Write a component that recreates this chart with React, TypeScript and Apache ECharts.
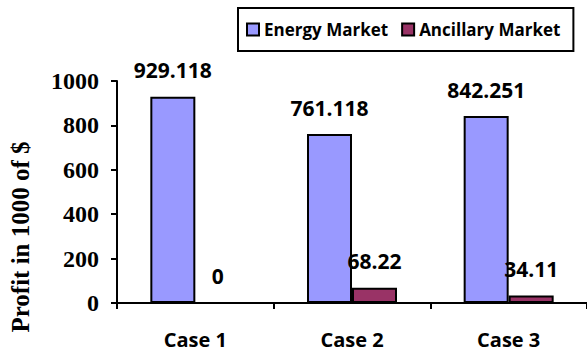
import React, { useEffect, useRef } from "react";
import * as echarts from "echarts";

const categories = ["Case 1", "Case 2", "Case 3"];
const energyMarket = [929.118, 761.118, 842.251];
const ancillaryMarket = [0, 68.22, 34.11];
const yTicks = { min: 0, max: 1000, interval: 200 };

export default function App() {
  const ref = useRef<HTMLDivElement>(null);
  useEffect(() => {
    const chart = echarts.init(ref.current!, null, { renderer: "svg" });
    const labelStyle = {
      show: true,
      position: "top" as const,
      distance: 16,
      color: "#000",
      fontFamily: "Open Sans",
      fontWeight: "bold" as const,
      fontSize: 21,
      formatter: (p: any) => String(p.value),
    };
    chart.setOption({
      animation: false,
      backgroundColor: "#fff",
      grid: { left: 117, right: 0, top: 81, bottom: 51 },
      legend: {
        left: 238,
        top: 8,
        padding: [13, 13, 13, 8],
        borderColor: "#000",
        borderWidth: 2,
        itemGap: 13,
        itemWidth: 12,
        itemHeight: 12,
        icon: "rect",
        textStyle: {
          fontFamily: "Open Sans",
          fontWeight: "bold",
          fontSize: 17,
          color: "#000",
        },
        data: ["Energy Market", "Ancillary Market"],
      },
      xAxis: {
        type: "category",
        data: categories,
        axisLine: { lineStyle: { color: "#000", width: 2 } },
        axisTick: { show: true, length: 6, lineStyle: { color: "#000", width: 2 } },
        axisLabel: {
          margin: 26,
          color: "#000",
          fontFamily: "Open Sans",
          fontWeight: "bold",
          fontSize: 20,
        },
      },
      yAxis: {
        type: "value",
        min: yTicks.min,
        max: yTicks.max,
        interval: yTicks.interval,
        splitLine: { show: false },
        axisLine: { show: true, lineStyle: { color: "#000", width: 2 } },
        axisTick: { show: true, length: 6, lineStyle: { color: "#000", width: 2 } },
        axisLabel: {
          margin: 18,
          color: "#000",
          fontFamily: "Liberation Serif",
          fontWeight: "bold",
          fontSize: 24,
          formatter: (v: number) => String(v),
        },
      },
      graphic: [
        {
          type: "text",
          x: 20,
          y: 237,
          rotation: Math.PI / 2,
          style: {
            text: "Profit in 1000 of $",
            fill: "#000",
            fontFamily: "Liberation Serif",
            fontWeight: "bold",
            fontSize: 25,
            align: "center",
            verticalAlign: "middle",
          },
        },
      ],
      series: [
        {
          name: "Energy Market",
          type: "bar",
          data: energyMarket,
          barWidth: 45,
          barGap: "0%",
          itemStyle: { color: "#9999FF", borderColor: "#000", borderWidth: 2 },
          label: labelStyle,
        },
        {
          name: "Ancillary Market",
          type: "bar",
          data: ancillaryMarket,
          barWidth: 45,
          barGap: "0%",
          itemStyle: { color: "#993366", borderColor: "#000", borderWidth: 2 },
          label: labelStyle,
        },
      ],
    });
    return () => chart.dispose();
  }, []);
  return <div ref={ref} style={{ width: 587, height: 354, position: "absolute", left: 0, top: 0 }} />;
}
